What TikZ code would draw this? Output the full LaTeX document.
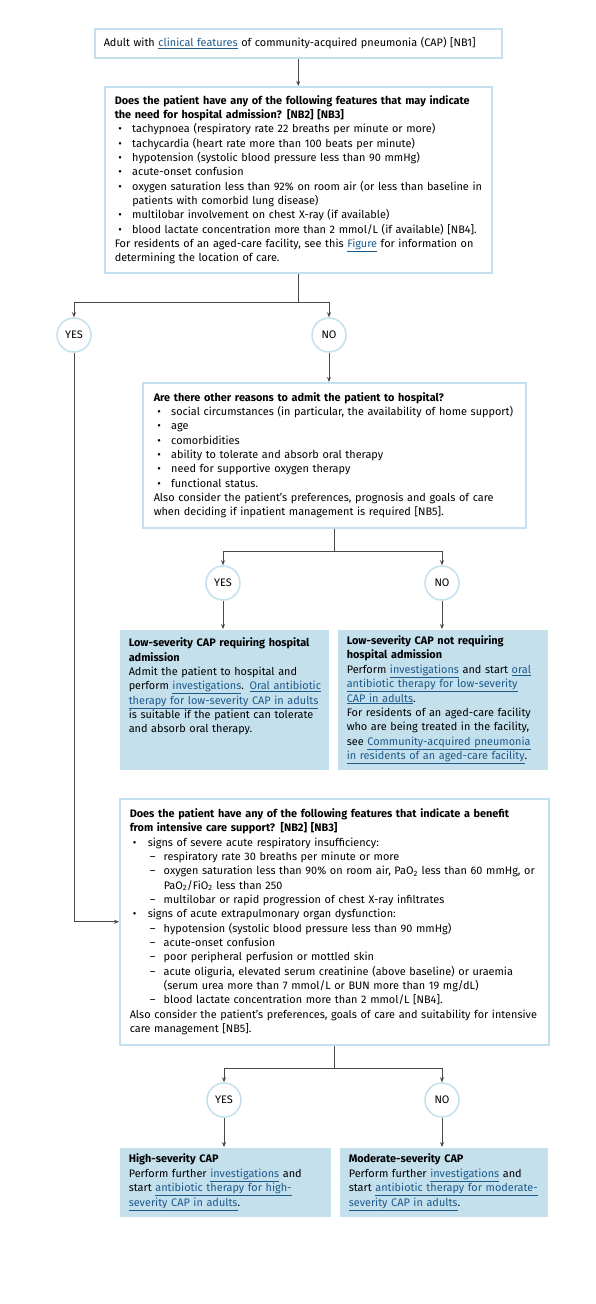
\documentclass[tikz,border=0pt]{standalone}
\usepackage{fontspec}
\setmainfont{Fira Sans}
\usetikzlibrary{arrows.meta,positioning}
\definecolor{boxline}{HTML}{C3E0EE}
\definecolor{boxfill}{HTML}{C4E0ED}
\definecolor{linkblue}{HTML}{1D5A8C}
\definecolor{arrowgray}{HTML}{484848}
\setlength{\parindent}{0pt}
\newcommand{\lnk}[1]{{\color{linkblue}\underline{#1}}}
\newcommand{\nowrap}{\rightskip=-16pt plus 1fil\relax}
\newcommand{\bul}{\par\hangindent=17.5pt\hspace*{3.5pt}\makebox[14pt][l]{\textbullet}}
\newcommand{\sbul}{\par\hangindent=18pt\hspace*{3pt}\makebox[15pt][l]{\textbullet}}
\newcommand{\dsh}{\par\hangindent=34pt\hspace*{20pt}\makebox[14pt][l]{--}}
\tikzset{qbox/.style={draw=boxline, line width=1.5pt, fill=white, align=left,
    anchor=north west, inner xsep=10pt, inner ysep=6pt,
    font=\fontsize{10.9}{14.35}\selectfont},
endbox/.style={qbox, draw=none, fill=boxfill, inner xsep=9pt},
answer/.style={circle, draw=boxline, line width=1.5pt, fill=white,
    minimum size=34pt, inner sep=0pt, font=\fontsize{10.9}{12}\selectfont},
flow/.style={draw=arrowgray, line width=0.8pt, -{Stealth[length=5pt,width=4pt]}},
link/.style={draw=arrowgray, line width=0.8pt}
}

\begin{document}
\begin{tikzpicture}[x=1pt, y=-1pt]
    \useasboundingbox (0,0) rectangle (595,1304);
    % questions
    \node[qbox, inner xsep=9pt, text width=389pt, minimum height=29pt] (start) at (94,28)
        {\nowrap Adult with \lnk{clinical features} of community-acquired pneumonia (CAP) [NB1]};
    \node[qbox, text width=367pt, minimum height=186pt] (hosp) at (104,86)
        {\nowrap{\bfseries Does the patient have any of the following features that may indicate\newline the need for hospital admission? [NB2] [NB3]}
        \bul tachypnoea (respiratory rate 22 breaths per minute or more)
        \bul tachycardia (heart rate more than 100 beats per minute)
        \bul hypotension (systolic blood pressure less than 90 mmHg)
        \bul acute-onset confusion
        \bul oxygen saturation less than 92\% on room air (or less than baseline in\newline patients with comorbid lung disease)
        \bul multilobar involvement on chest X-ray (if available)
        \bul blood lactate concentration more than 2 mmol/L (if available) [NB4].
        \par For residents of an aged-care facility, see this \lnk{Figure} for information on\newline determining the location of care.};
    \node[answer] (yes_1) at (74,335) {YES};
    \node[answer] (no_1) at (329,335) {NO};
    \node[qbox, inner xsep=11pt, text width=361pt, minimum height=145pt] (other) at (142,382)
        {\nowrap{\bfseries Are there other reasons to admit the patient to hospital?}
        \bul social circumstances (in particular, the availability of home support)
        \bul age
        \bul comorbidities
        \bul ability to tolerate and absorb oral therapy
        \bul need for supportive oxygen therapy
        \bul functional status.
        \par Also consider the patient's preferences, prognosis and goals of care\newline when deciding if inpatient management is required [NB5].};
    \node[answer] (yes_2) at (223,583) {YES};
    \node[answer] (no_2) at (442,583) {NO};
    % low severity
    \node[endbox, text width=191pt, minimum height=140pt] (low_adm) at (119,629)
        {\nowrap{\bfseries Low-severity CAP requiring hospital\newline admission}\par
        Admit the patient to hospital and\newline perform \lnk{investigations}. \lnk{Oral antibiotic}\newline \lnk{therapy for low-severity CAP in adults}\newline is suitable if the patient can tolerate\newline and absorb oral therapy.\par\mbox{}\par\mbox{}};
    \node[endbox, text width=192pt, minimum height=140pt] (low_home) at (337,629)
        {\nowrap{\bfseries Low-severity CAP not requiring\newline hospital admission}\par
        Perform \lnk{investigations} and start \lnk{oral}\newline \lnk{antibiotic therapy for low-severity}\newline \lnk{CAP in adults}.\par
        For residents of an aged-care facility\newline who are being treated in the facility,\newline see \lnk{Community-acquired pneumonia}\newline \lnk{in residents of an aged-care facility}.};
    \node[qbox, inner xsep=10pt, text width=409pt, minimum height=246pt] (icu) at (119,798)
        {\nowrap{\bfseries Does the patient have any of the following features that indicate a benefit\newline from intensive care support? [NB2] [NB3]}
        \sbul signs of severe acute respiratory insufficiency:
        \dsh respiratory rate 30 breaths per minute or more
        \dsh oxygen saturation less than 90\% on room air, PaO\textsubscript{2} less than 60 mmHg, or\newline PaO\textsubscript{2}/FiO\textsubscript{2} less than 250
        \dsh multilobar or rapid progression of chest X-ray infiltrates
        \sbul signs of acute extrapulmonary organ dysfunction:
        \dsh hypotension (systolic blood pressure less than 90 mmHg)
        \dsh acute-onset confusion
        \dsh poor peripheral perfusion or mottled skin
        \dsh acute oliguria, elevated serum creatinine (above baseline) or uraemia\newline (serum urea more than 7 mmol/L or BUN more than 19 mg/dL)
        \dsh blood lactate concentration more than 2 mmol/L [NB4].
        \par Also consider the patient's preferences, goals of care and suitability for intensive\newline care management [NB5].};
    \node[answer] (yes_3) at (224,1100) {YES};
    \node[answer] (no_3) at (442,1100) {NO};
    % severity outcomes
    \node[endbox, text width=193pt, minimum height=69pt] (high) at (119,1147)
        {\nowrap{\bfseries High-severity CAP}\par Perform further \lnk{investigations} and\newline start \lnk{antibiotic therapy for high-}\newline \lnk{severity CAP in adults}.};
    \node[endbox, text width=190pt, minimum height=69pt] (moderate) at (339,1147)
        {\nowrap{\bfseries Moderate-severity CAP}\par Perform further \lnk{investigations} and\newline start \lnk{antibiotic therapy for moderate-}\newline \lnk{severity CAP in adults}.};

    \draw[flow] (start) -- (hosp);
    \draw[link] (hosp.south) -- ++(0,29) coordinate (split_1);
    \draw[flow] (split_1) -| (yes_1);
    \draw[flow] (split_1) -| (no_1);
    \draw[flow] (no_1) -- (no_1 |- other.north);
    \draw[flow] (yes_1) |- (icu.west);
    \draw[link] (other.south) -- ++(0,23) coordinate (split_2);
    \draw[flow] (split_2) -| (yes_2);
    \draw[flow] (split_2) -| (no_2);
    \draw[flow] (yes_2) -- (yes_2 |- low_adm.north);
    \draw[flow] (no_2) -- (no_2 |- low_home.north);
    \draw[link] (icu.south) -- ++(0,23) coordinate (split_3);
    \draw[flow] (split_3) -| (yes_3);
    \draw[flow] (split_3) -| (no_3);
    \draw[flow] (yes_3) -- (yes_3 |- high.north);
    \draw[flow] (no_3) -- (no_3 |- moderate.north);
\end{tikzpicture}
\end{document}
